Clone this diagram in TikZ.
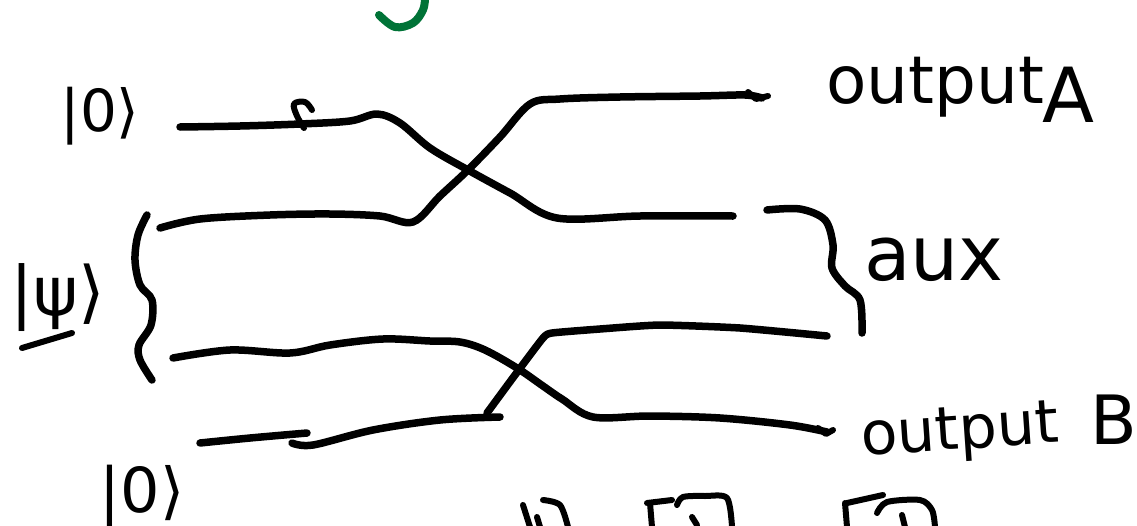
\documentclass[tikz,border=0pt]{standalone}
\usepackage{fontspec}
\setmainfont{DejaVu Sans}
\begin{document}
\begin{tikzpicture}[x=1pt,y=-1pt,
  ink/.style={line width=7.5pt,line cap=round,line join=round,black},
  thin ink/.style={line width=6pt,line cap=round,line join=round,black},
  lbl/.style={inner sep=0pt,font=\fontsize{#1}{#1}\selectfont},
  wire/.style={ink,smooth,tension=0.55}]
\useasboundingbox (0,0) rectangle (1137,525);

% green stroke at the top edge
\draw[line width=8pt,line cap=round,color={rgb,255:red,0;green,115;blue,55}]
  plot[smooth,tension=0.6] coordinates {(379,15) (395,27) (413,23) (423,10) (425,-2)};

% labels
\node[lbl=58,anchor=center] (zeroA) at (100,116) {|0⟩};
\node[lbl=68,anchor=center] (psi) at (58,298) {|ψ⟩};
\node[lbl=62,anchor=center] (zeroB) at (142,496) {|0⟩};
\draw[thin ink] (22,348) -- (72,333);
\node[lbl=66,anchor=base west] (outA) at (826,103) {output};
\node[lbl=76,anchor=base west] (labA) at (1042,122) {A};
\node[lbl=76,anchor=base west] (aux) at (864,280) {aux};
\node[lbl=60,anchor=base west,rotate=4] (outB) at (862,456) {output};
\node[lbl=68,anchor=base west] (labB) at (1090,444) {B};

% wire end points
\coordinate (w1s) at (180,127);  \coordinate (w1e) at (733,216);
\coordinate (w2s) at (160,228);  \coordinate (w2e) at (762,98);
\coordinate (w3s) at (173,358);  \coordinate (w3e) at (827,432);
\coordinate (w4s) at (200,443);  \coordinate (w4e) at (827,336);

% top |0> wire, crossing down to the aux line
\draw[wire] plot coordinates {(w1s) (240,126) (300,124) (350,121) (377,114) (400,123)
  (430,148) (468,170) (510,193) (557,218) (640,216) (w1e)};
\draw[thin ink] plot[smooth,tension=0.6] coordinates {(312,110) (305,102) (294,104) (297,116) (304,128)};

% upper |psi> wire, crossing up to output A
\draw[wire] plot coordinates {(w2s) (200,219) (270,215) (330,214) (380,216) (413,222)
  (440,196) (468,170) (500,137) (530,104) (560,99) (620,97) (700,96) (745,95) (w2e)};
\draw[thin ink] (748,92) -- (756,99) -- (768,96);

% lower |psi> wire, crossing down to output B
\draw[wire] plot coordinates {(w3s) (230,350) (290,353) (330,345) (383,339) (430,341)
  (460,342) (485,350) (517,368) (543,386) (562,399) (593,417) (650,416) (720,418)
  (790,425) (w3e)};
\draw[thin ink] (818,428) -- (826,434) -- (833,430);

% bottom |0> wire, crossing up to the aux line
\draw[wire] plot coordinates {(w4s) (250,438) (307,433)};
\draw[wire] plot coordinates {(292,443) (313,445) (373,430) (440,420) (500,417)};
\draw[wire] plot[tension=0.3] coordinates {(487,413) (515,375) (543,338) (552,333) (600,329)
  (660,325) (740,328) (w4e)};

% brace grouping the two |psi> lines
\draw[wire] plot coordinates {(147,215) (138,235) (135,260) (140,285) (152,300) (151,325)
  (139,345) (140,360) (152,380)};

% brace grouping the aux lines
\draw[wire] plot coordinates {(767,210) (800,209) (825,220) (833,245) (832,268) (845,286)
  (860,300) (862,333)};

% partial glyphs along the lower edge
\draw[thin ink] (523,505) -- (530,527);
\draw[thin ink] plot[smooth] coordinates {(543,500) (560,505) (568,527)};
\draw[thin ink] (537,517) -- (540,527);
\draw[thin ink] (647,503) -- (672,500);
\draw[thin ink] (650,503) -- (652,527);
\draw[thin ink] plot[smooth] coordinates {(677,505) (683,497) (705,496) (727,498) (732,527)};
\draw[thin ink] (692,517) -- (697,525);
\draw[thin ink] (847,503) -- (883,495);
\draw[thin ink] (845,503) -- (847,527);
\draw[thin ink] plot[smooth] coordinates {(877,513) (887,502) (920,500) (932,510) (935,527)};
\draw[thin ink] (902,515) -- (905,527);
\end{tikzpicture}
\end{document}
